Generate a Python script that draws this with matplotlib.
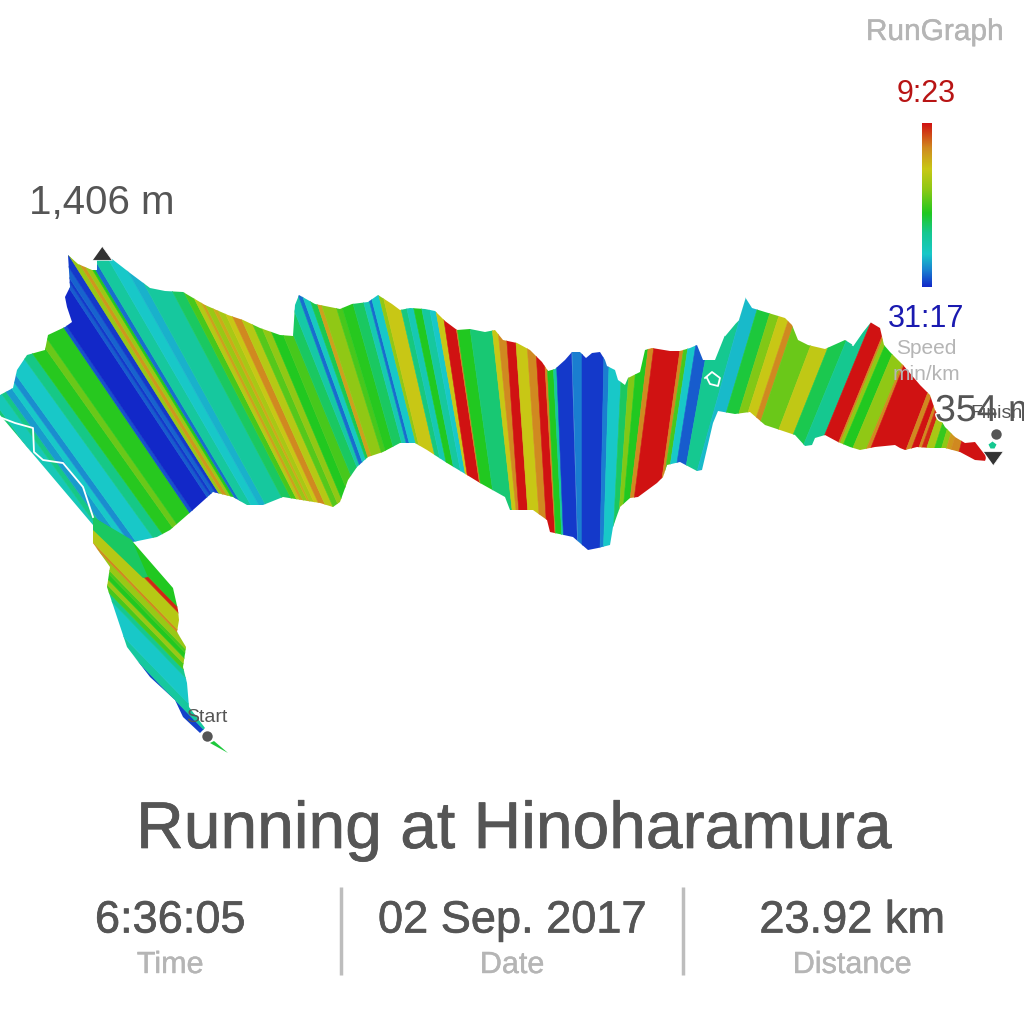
# plot.py - RunGraph style speed ribbon
import numpy as np
import matplotlib
matplotlib.use("Agg")
import matplotlib.pyplot as plt
from matplotlib.colors import LinearSegmentedColormap
from matplotlib.patches import Polygon
import matplotlib.patheffects as pe

plt.rcParams["font.family"] = ["Liberation Sans", "DejaVu Sans"]

# 速度 0 = slowest (blue), 1 = fastest (red)
speed_stops = [0.0, 0.1, 0.2, 0.33, 0.45, 0.6, 0.72, 0.85, 1.0]
speed_colors = ["#1228c8", "#1a80d0", "#18c8c8", "#15c890", "#20c820",
                "#90c815", "#c8c815", "#d08a20", "#d01212"]

# main ribbon: where each band crosses y=400, its lean and its speed
band_x400 = [-20, -7, 6, 12, 20, 27, 34, 54, 66, 82, 90,
             113, 117, 143, 147, 150, 155,
             160, 164, 168, 172, 175, 179, 190, 200, 208, 230,
             240, 246, 250, 253, 258, 261, 266, 271, 278, 286, 293, 300, 310, 320, 330,
             336, 340, 345, 349, 353, 365,
             370, 380, 390, 395, 398, 405, 408, 422, 427, 433, 440, 447, 452, 456, 467, 468,
             480, 500, 505, 511, 520, 531, 539, 547, 549, 555,
             558, 573, 582, 603, 608, 620, 627, 633, 642, 647,
             673, 676, 680, 687, 698, 717, 730, 743, 752, 762, 768, 790, 807, 822,
             839, 856, 858, 862, 873, 887, 890, 925, 930, 936, 939,
             943, 950, 956, 961, 966, 972]
band_slope = [.72, .72, .72, .72, .72, .72, .72, .72, .72, .71, .70,
              .68, .68, .66, .66, .66, .65,
              .63, .62, .62, .61, .61, .60, .58, .56, .55, .53,
              .52, .51, .50, .50, .49, .48, .47, .46, .45, .44, .43, .42, .41, .41, .40,
              .36, .36, .35, .33, .33, .31,
              .30, .28, .27, .26, .26, .25, .24, .23, .22, .21, .20, .19, .18, .15, .15, .15,
              .14, .11, .10, .07, .07, .07, .06, .06, .05, .05,
              .04, .03, .00, -.02, -.03, -.05, -.07, -.09, -.12, -.13,
              -.14, -.15, -.15, -.16, -.18, -.28, -.30, -.31, -.32, -.33, -.34, -.38, -.40, -.41,
              -.41, -.41, -.41, -.42, -.42, -.42, -.40, -.38, -.38, -.36, -.36,
              -.34, -.32, -.30, -.30, -.30, -.25]
band_speed = [.36, .24, .34, .14, .2, .12, .2, .34, .46, .55, .46,
              .05, 0, .06, .02, .07, .02,
              .62, .82, .62, .45, .08, .3, .2, .17, .3, .38,
              .5, .68, .8, .62, .78, .65, .72, .85, .68, .52, .6, .45, .5, .38, .28,
              .08, .22, .4, .8, .6, .5,
              .46, .38, .25, .08, .2, .6, .72, .35, .25, .45, .3, .2, .72, 1.0, .85, .45,
              .36, .72, .85, 1.0, .72, .85, 1.0, .85, .45, .3,
              .02, .1, .02, .1, .2, .38, .58, .45, .85, 1.0,
              .85, .5, .2, .06, .33, .18, .42, .58, .72, .85, .55, .7, .4, .33,
              1.0, .85, .6, .45, .6, .85, 1.0, .85, 1.0, .85, .97,
              .65, .48, .6, .82, .85, 1.0]
assert len(band_x400) == len(band_slope) == len(band_speed)

# tail near the start: where each band crosses y=600
tail_x600 = [40, 78, 88, 110, 116, 122, 128, 134, 138, 146, 149, 166, 171]
tail_speed = [.03, .3, .2, .33, .5, .62, .45, .5, .62, .85, .68, .97, .45]

main_outline = [(68, 255), (78, 264), (92, 270), (97, 270), (97, 259), (112, 259), (130, 273),
                (150, 288), (165, 291), (183, 292), (205, 305), (228, 315), (243, 320), (260, 328),
                (280, 335), (293, 336), (295, 305), (299, 295), (315, 304), (340, 309), (352, 304),
                (368, 302), (378, 295), (392, 304), (400, 310), (410, 308), (425, 309), (435, 311),
                (445, 321), (457, 330), (470, 329), (485, 332), (495, 330), (503, 340), (517, 343),
                (530, 350), (542, 362), (548, 371), (555, 369), (565, 360), (572, 352), (580, 352),
                (586, 358), (592, 353), (600, 352), (605, 360), (607, 366), (615, 370), (618, 380),
                (625, 385), (628, 378), (640, 372), (645, 350), (652, 348), (670, 351), (680, 351),
                (690, 348), (697, 345), (703, 360), (712, 360), (715, 360), (725, 335), (735, 323),
                (738, 320), (745, 297), (752, 308), (765, 312), (785, 318), (792, 325), (798, 340),
                (808, 345), (825, 349), (845, 340), (853, 345), (870, 322), (880, 328), (884, 345),
                (890, 352), (903, 365), (920, 385), (930, 395), (935, 410), (945, 427), (955, 437),
                (965, 443), (975, 442), (985, 455), (987, 461), (975, 460), (960, 452), (945, 448),
                (930, 448), (917, 447), (905, 450), (900, 448), (895, 445), (875, 447), (860, 450),
                (850, 447), (838, 442), (825, 435), (815, 438), (812, 445), (805, 446), (795, 435),
                (780, 430), (765, 425), (750, 412), (735, 414), (718, 411), (713, 423), (702, 470),
                (697, 471), (680, 462), (667, 465), (663, 477), (657, 483), (638, 497), (630, 498),
                (620, 507), (613, 527), (610, 545), (598, 548), (588, 550), (573, 537), (550, 532),
                (547, 520), (533, 510), (510, 510), (505, 497), (480, 483), (467, 475), (447, 463),
                (427, 450), (415, 443), (400, 443), (383, 452), (368, 457), (357, 467), (348, 480),
                (340, 502), (333, 507), (320, 503), (283, 497), (263, 505), (247, 505), (233, 497),
                (213, 492), (193, 510), (170, 530), (157, 537), (133, 542), (93, 525), (0, 415),
                (0, 395), (13, 388), (17, 370), (27, 355), (45, 350), (48, 335), (65, 327), (72, 322),
                (67, 307), (65, 297), (70, 287)]

tail_outline = [(93, 517), (133, 542), (173, 588), (178, 610), (179, 620), (177, 632), (186, 647),
                (183, 667), (187, 683), (189, 707), (205, 728), (200, 733), (183, 717), (175, 700),
                (150, 677), (127, 647), (107, 587), (110, 567), (93, 543)]

route_lines = [[(2, 418), (15, 423), (33, 428), (34, 452), (43, 460), (63, 463), (83, 487), (93, 517)],
               [(725, 335), (735, 323), (738, 320), (745, 297)],
               [(853, 345), (862, 332), (870, 322)],
               [(705, 378), (712, 372), (720, 378), (718, 386), (710, 384), (707, 378)]]

stats = ["6:36:05", "02 Sep. 2017", "23.92 km"]
stat_names = ["Time", "Date", "Distance"]

cmap = LinearSegmentedColormap.from_list("pace", list(zip(speed_stops, speed_colors)))


def draw_bands(ax, x_ref, y_ref, slopes, speeds, outline, right_end):
    clip = Polygon(outline, closed=True, transform=ax.transData, fc="none", ec="none")
    ax.add_patch(clip)
    y0, y1 = 200, 800
    for i, (x, s, v) in enumerate(zip(x_ref, slopes, speeds)):
        nx = x_ref[i + 1] if i + 1 < len(x_ref) else right_end
        ns = slopes[i + 1] if i + 1 < len(x_ref) else s
        pts = [(x + s * (y0 - y_ref), y0), (nx + ns * (y0 - y_ref), y0),
               (nx + ns * (y1 - y_ref), y1), (x + s * (y1 - y_ref), y1)]
        p = Polygon(pts, closed=True, fc=cmap(v), ec=cmap(v), lw=0.4, zorder=2)
        ax.add_patch(p)
        p.set_clip_path(clip)


fig = plt.figure(figsize=(10.24, 10.24), dpi=100)
ax = fig.add_axes([0, 0, 1, 1])
ax.set_xlim(0, 1024)
ax.set_ylim(1024, 0)
ax.axis("off")

draw_bands(ax, band_x400, 400, band_slope, band_speed, main_outline, 1000)
draw_bands(ax, tail_x600, 600, [.97] * len(tail_x600), tail_speed, tail_outline, 215)

# overlap where the tail runs under the main body, and the last sliver after the start
ax.add_patch(Polygon([(93, 517), (132, 540), (148, 577), (143, 578), (93, 530)],
                     fc=cmap(.38), ec="none", zorder=3))
ax.add_patch(Polygon([(210, 743), (214, 741), (228, 753)], fc=cmap(.42), ec="none", zorder=3))

for line in route_lines:
    ax.plot(*zip(*line), color="white", lw=1.3, zorder=4)

# colour scale
ax.imshow(np.linspace(1, 0, 256).reshape(-1, 1), cmap=cmap, vmin=0, vmax=1,
          extent=[922, 932, 287, 123], aspect="auto", zorder=3)
ax.set_xlim(0, 1024)
ax.set_ylim(1024, 0)

grey = "#555555"
light = "#b5b5b5"
heavy = [pe.withStroke(linewidth=0.5, foreground=grey)]
soft = [pe.withStroke(linewidth=0.3, foreground=light)]
ax.text(935, 32, "RunGraph", fontsize=21.5, color=light, ha="center", va="center", path_effects=soft)
ax.text(926, 94, "9:23", fontsize=22, color="#b81414", ha="center", va="center")
ax.text(926, 319, "31:17", fontsize=22, color="#1a1ab0", ha="center", va="center")
ax.text(926, 349, "Speed", fontsize=15, color=light, ha="center", va="center", zorder=5)
ax.text(926, 374, "min/km", fontsize=15, color=light, ha="center", va="center", zorder=5)

ax.text(102, 203, "1,406 m", fontsize=29, color=grey, ha="center", va="center")
ax.text(935, 411, "354 m", fontsize=27, color=grey, ha="left", va="center", zorder=6,
        path_effects=[pe.withStroke(linewidth=2, foreground="white")])
ax.text(996, 414, "Finish", fontsize=14, color=grey, ha="center", va="center", zorder=7)
ax.text(207, 717, "Start", fontsize=14, color=grey, ha="center", va="center", zorder=7)

up = [(-1, -0.7), (1, -0.7), (0, 0.7)]
down = [(-1, 0.7), (1, 0.7), (0, -0.7)]
ax.plot([102], [253], marker=up, ms=14, color="#333333", mec="white", mew=0.5, zorder=6)
ax.plot([993], [458], marker=down, ms=14, color="#333333", mec="white", mew=0.5, zorder=6)
ax.plot([207], [736], marker="o", ms=7.5, color=grey, mec="none", zorder=6)
ax.plot([996], [434], marker="o", ms=7.5, color=grey, mec="none", zorder=6)
ax.plot([992], [445], marker="p", ms=6, color=cmap(.33), mec="none", zorder=5)

ax.text(514, 831, "Running at Hinoharamura", fontsize=47.5, color=grey, ha="center", va="center",
        path_effects=heavy)

stat_x = [170, 512, 852]
for x, s, n in zip(stat_x, stats, stat_names):
    ax.text(x, 921, s, fontsize=32.5, color=grey, ha="center", va="center", path_effects=heavy)
    ax.text(x, 965, n, fontsize=22, color=light, ha="center", va="center", path_effects=soft)
for x in (341, 683):
    ax.plot([x, x], [887, 975], color="#bdbdbd", lw=2.5, solid_capstyle="butt")

fig.savefig("out.png", dpi=100)
